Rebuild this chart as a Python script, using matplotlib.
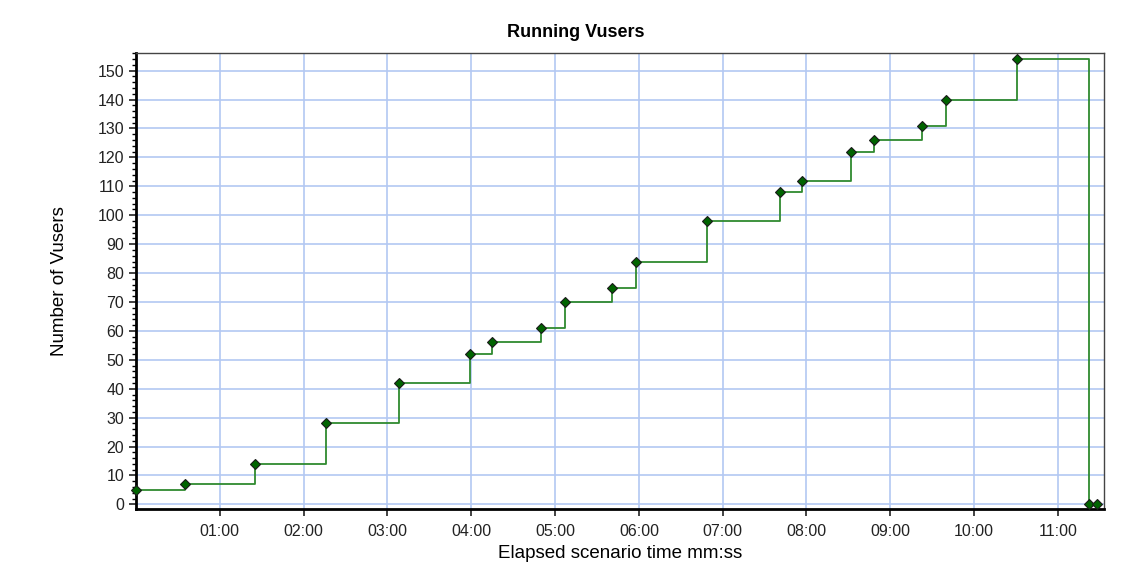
import matplotlib
matplotlib.use("Agg")
import matplotlib.pyplot as plt
from matplotlib.ticker import FuncFormatter, MultipleLocator

# elapsed seconds and running vusers
times = [0, 35, 85, 136, 188, 239, 255, 290, 307, 341, 358, 409, 461,
         477, 512, 528, 563, 580, 631, 682, 688]
vusers = [5, 7, 14, 28, 42, 52, 56, 61, 70, 75, 84, 98, 108,
          112, 122, 126, 131, 140, 154, 0, 0]
y_ticks = list(range(0, 151, 10))
x_ticks = [60 * m for m in range(1, 12)]

plt.rcParams["font.family"] = ["Liberation Sans", "DejaVu Sans"]

fig = plt.figure(figsize=(11.27, 5.82), dpi=100)
ax = fig.add_axes([0.1207, 0.1259, 0.8589, 0.7825])

ax.step(times, vusers, where="post", color="#2f8a2f", lw=1.3, zorder=3)
ax.plot(times, vusers, ls="none", marker="D", ms=5, color="#006400",
        mec="#1a1a1a", mew=0.8, zorder=4, clip_on=False)

ax.set_xlim(0, 693)
ax.set_ylim(-1.5, 156)
ax.set_yticks(y_ticks)
ax.set_xticks(x_ticks)
ax.yaxis.set_minor_locator(MultipleLocator(2))
ax.xaxis.set_major_formatter(FuncFormatter(lambda v, p: f"{int(v)//60:02d}:{int(v)%60:02d}"))

ax.grid(True, color="#b3c8f2", lw=1.2, zorder=0)
ax.set_axisbelow(True)

for s in ("left", "bottom"):
    ax.spines[s].set_linewidth(2)
    ax.spines[s].set_color("black")
for s in ("top", "right"):
    ax.spines[s].set_linewidth(1)
    ax.spines[s].set_color("#444444")

ax.tick_params(axis="both", which="major", labelsize=11.5, length=5, width=1.2,
               colors="#222222")
ax.tick_params(axis="x", pad=6)
ax.tick_params(axis="y", which="minor", length=3, width=1)

fig.text(0.511, 0.944, "Running Vusers", fontsize=13, fontweight="bold",
         ha="center", va="center")
ax.set_xlabel("Elapsed scenario time mm:ss", fontsize=13.5, labelpad=4)
ax.set_ylabel("Number of Vusers", fontsize=13.5, labelpad=21)

fig.savefig("out.png", dpi=100)
